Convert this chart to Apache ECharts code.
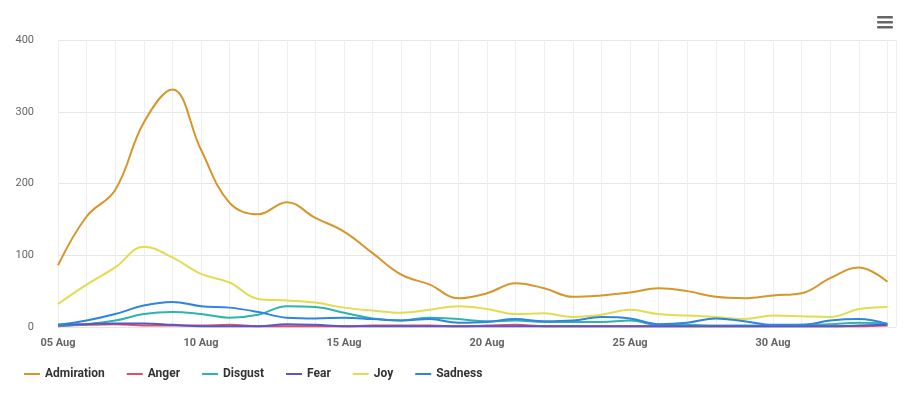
<!DOCTYPE html>
<html>
<head>
<meta charset="utf-8">
<script src="https://cdn.jsdelivr.net/npm/echarts@6/dist/echarts.min.js"></script>
<style>
html,body{margin:0;padding:0;background:#fff;}
#chart{width:918px;height:399px;}
</style>
</head>
<body>
<div id="chart"></div>
<script>
const categories = ['05 Aug','06 Aug','07 Aug','08 Aug','09 Aug','10 Aug','11 Aug','12 Aug','13 Aug','14 Aug',
  '15 Aug','16 Aug','17 Aug','18 Aug','19 Aug','20 Aug','21 Aug','22 Aug','23 Aug','24 Aug',
  '25 Aug','26 Aug','27 Aug','28 Aug','29 Aug','30 Aug','31 Aug','01 Sep','02 Sep','03 Sep'];
const seriesNames = ['Admiration','Anger','Disgust','Fear','Joy','Sadness'];
const admiration = [86,154,191,285,331,247,173,157,174,152,133,103,73,59,40,47,61,54,42,44,48,54,50,42,40,44,47,68,83,63];
const anger      = [1,3,4,2,2,2,3,1,1,1,1,2,2,2,1,2,3,1,1,1,1,1,1,1,1,1,1,1,1,2];
const disgust    = [2,4,9,18,21,18,13,17,29,28,20,12,9,13,11,8,9,7,7,7,9,3,3,2,2,2,3,4,6,5];
const fear       = [3,4,5,5,3,1,1,1,4,3,1,1,1,1,1,1,1,1,1,1,1,1,1,1,1,1,1,1,2,3];
const joy        = [32,59,83,112,97,74,62,39,37,34,27,23,20,24,29,25,18,19,14,17,24,18,16,14,11,16,15,14,25,28];
const sadness    = [3,9,18,30,35,29,27,21,13,12,13,11,9,11,6,7,11,8,9,14,12,4,6,12,8,3,3,9,11,4];
const yTicks = [0,100,200,300,400];

const colors = ['#D6962A','#E2505F','#2EB5AA','#5A55C8','#E2DC50','#2E85E0'];
const allData = [admiration, anger, disgust, fear, joy, sadness];

const chart = echarts.init(document.getElementById('chart'), null, {renderer:'canvas'});
const font = 'Roboto, "Noto Sans", sans-serif';

chart.setOption({
  animation: false,
  backgroundColor: '#ffffff',
  color: colors,
  grid: {left: 58, right: 22, top: 40, bottom: 72, containLabel: false},
  xAxis: {
    type: 'value',
    min: 0,
    max: categories.length - 1 + 0.3,
    interval: 1,
    axisLine: {show: false},
    axisTick: {show: false},
    axisLabel: {
      showMaxLabel: false,
      margin: 11,
      color: '#666666',
      fontFamily: font,
      fontSize: 11,
      fontWeight: 'bold',
      formatter: function (v) {
        return (Number.isInteger(v) && v % 5 === 0) ? categories[v] : '';
      }
    },
    splitLine: {show: true, lineStyle: {color: '#eeeeee', width: 1}}
  },
  yAxis: {
    type: 'value',
    min: yTicks[0],
    max: yTicks[yTicks.length - 1],
    interval: 100,
    axisLine: {show: false},
    axisTick: {show: false},
    axisLabel: {
      margin: 24,
      padding: [4, 0, 0, 0],
      color: '#666666',
      fontFamily: font,
      fontSize: 11,
      formatter: function (v) { return yTicks.indexOf(v) >= 0 ? String(v) : ''; }
    },
    splitLine: {show: true, lineStyle: {color: '#e6e6e6', width: 1}}
  },
  legend: {
    left: 24,
    top: 368,
    padding: 0,
    icon: 'rect',
    itemWidth: 16,
    itemHeight: 2,
    itemGap: 22,
    textStyle: {color: '#333333', fontFamily: font, fontSize: 12, fontWeight: 'bold', padding: [0,0,0,0]},
    data: seriesNames
  },
  graphic: [
    {type: 'rect', left: 877, top: 16, shape: {width: 16, height: 2.4, r: 1}, style: {fill: '#666666'}},
    {type: 'rect', left: 877, top: 21, shape: {width: 16, height: 2.4, r: 1}, style: {fill: '#666666'}},
    {type: 'rect', left: 877, top: 26, shape: {width: 16, height: 2.4, r: 1}, style: {fill: '#666666'}}
  ],
  series: seriesNames.map(function (name, k) {
    return {
      name: name,
      type: 'line',
      smooth: 0.4,
      showSymbol: false,
      symbol: 'none',
      lineStyle: {width: 2, color: colors[k]},
      itemStyle: {color: colors[k]},
      data: allData[k].map(function (v, i) { return [i, v]; })
    };
  })
});
</script>
</body>
</html>
